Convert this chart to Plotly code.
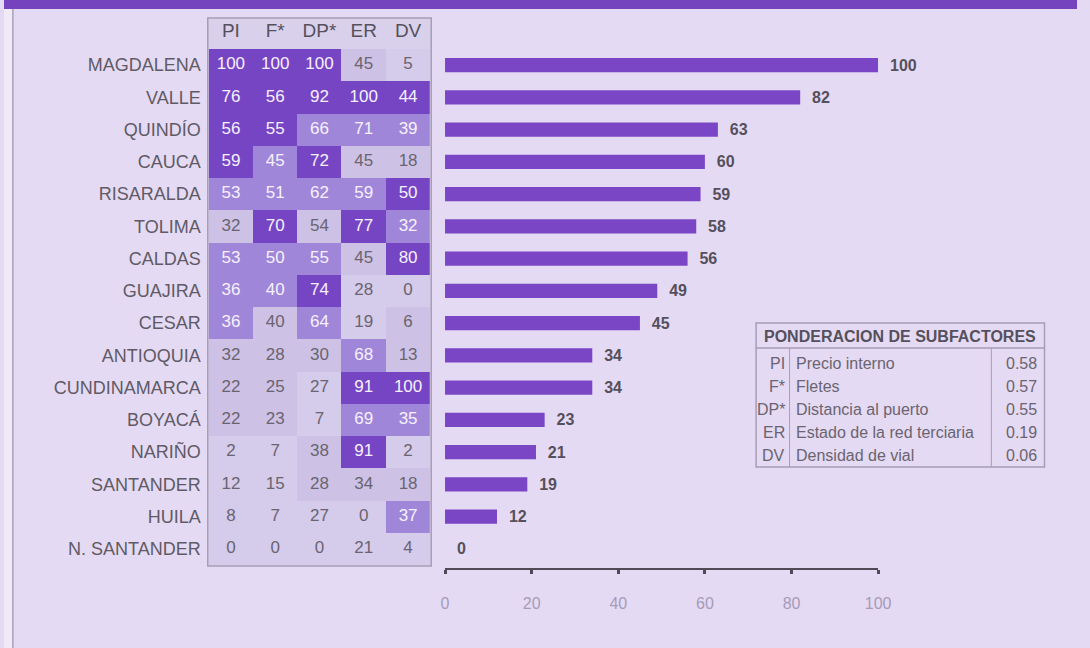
import plotly.graph_objects as go

W, H = 1090, 648

states = ["MAGDALENA", "VALLE", "QUINDÍO", "CAUCA", "RISARALDA", "TOLIMA", "CALDAS",
          "GUAJIRA", "CESAR", "ANTIOQUIA", "CUNDINAMARCA", "BOYACÁ", "NARIÑO",
          "SANTANDER", "HUILA", "N. SANTANDER"]
subfactors = ["PI", "F*", "DP*", "ER", "DV"]

pi = [100, 76, 56, 59, 53, 32, 53, 36, 36, 32, 22, 22, 2, 12, 8, 0]
fl = [100, 56, 55, 45, 51, 70, 50, 40, 40, 28, 25, 23, 7, 15, 7, 0]
dp = [100, 92, 66, 72, 62, 54, 55, 74, 64, 30, 27, 7, 38, 28, 27, 0]
er = [45, 100, 71, 45, 59, 77, 45, 28, 19, 68, 91, 69, 91, 34, 0, 21]
dv = [5, 44, 39, 18, 50, 32, 80, 0, 6, 13, 100, 35, 2, 18, 37, 4]

index_total = [100, 82, 63, 60, 59, 58, 56, 49, 45, 34, 34, 23, 21, 19, 12, 0]

weight_codes = ["PI", "F*", "DP*", "ER", "DV"]
weight_names = ["Precio interno", "Fletes", "Distancia al puerto",
                "Estado de la red terciaria", "Densidad de vial"]
weights = ["0.58", "0.57", "0.55", "0.19", "0.06"]

columns = [pi, fl, dp, er, dv]


def px_x(x):
    return x / W


def px_y(y):
    return 1 - y / H


# shade level per cell = quartile of the rank inside its column (0 = darkest)
levels = [[0] * len(subfactors) for _ in states]
for j, col in enumerate(columns):
    order = sorted(range(len(col)), key=lambda i: -col[i])
    for rank, i in enumerate(order):
        levels[i][j] = rank // 4

shade = ["#7645c4", "#a086d8", "#cdc2e5", "#d5cbea"]
colorscale = [[0, shade[0]], [0.25, shade[0]], [0.25, shade[1]], [0.5, shade[1]],
              [0.5, shade[2]], [0.75, shade[2]], [0.75, shade[3]], [1, shade[3]]]

fig = go.Figure()

fig.add_trace(go.Heatmap(
    z=levels, x=subfactors, y=states, zmin=-0.5, zmax=3.5,
    colorscale=colorscale, showscale=False, hoverinfo="skip",
    xaxis="x", yaxis="y"))

cx, cy, ct, cc = [], [], [], []
for i, s in enumerate(states):
    for j, f in enumerate(subfactors):
        cx.append(f)
        cy.append(s)
        ct.append(str(columns[j][i]))
        cc.append("#f6f1fd" if levels[i][j] < 2 else "#6a6470")
fig.add_trace(go.Scatter(
    x=cx, y=cy, text=ct, mode="text", textposition="middle center",
    textfont=dict(family="Liberation Sans, Arial", size=17, color=cc),
    hoverinfo="skip", showlegend=False, xaxis="x", yaxis="y"))

fig.add_trace(go.Bar(
    x=index_total, y=states, orientation="h", width=0.44,
    marker=dict(color="#7a46c6", line=dict(width=0)),
    texttemplate="\u00a0\u00a0%{x}", textposition="outside", constraintext="none",
    textfont=dict(family="Liberation Sans, Arial", size=16, color="#55505b",
                  weight="bold"),
    cliponaxis=False, xaxis="x2", yaxis="y2", showlegend=False))

n = len(states)
row_top, row_bot = 49, 565
fig.update_layout(
    width=W, height=H, margin=dict(l=0, r=0, t=0, b=0),
    paper_bgcolor="#e5daf3", plot_bgcolor="rgba(0,0,0,0)",
    showlegend=False, bargap=0.5,
    font=dict(family="Liberation Sans, Arial", color="#5a5560"),
    xaxis=dict(domain=[px_x(208), px_x(433)], side="top", showgrid=False,
               range=[-0.5, len(subfactors) - 0.5],
               zeroline=False, showline=False, ticks="", ticklabelstandoff=7,
               tickfont=dict(size=19, color="#55505b"), fixedrange=True),
    yaxis=dict(domain=[px_y(row_bot), px_y(row_top)], categoryorder="array",
               categoryarray=states, range=[n - 0.5, -0.5], showgrid=False,
               zeroline=False, showline=False, ticks="", ticklabelstandoff=7,
               tickfont=dict(size=18, color="#5f5a66"), fixedrange=True),
    xaxis2=dict(domain=[px_x(448), px_x(888)], range=[0, 100], anchor="free",
                position=px_y(569), showgrid=False, zeroline=False,
                showline=True, linecolor="#4f4a55", linewidth=2,
                ticks="outside", ticklen=4, tickwidth=3, tickcolor="#4f4a55",
                tickvals=[0, 20, 40, 60, 80, 100], ticklabelstandoff=16,
                tickfont=dict(size=16, color="#a69bb8"), fixedrange=True),
    yaxis2=dict(domain=[px_y(row_bot), px_y(row_top)], anchor="x2",
                categoryorder="array", categoryarray=states,
                range=[n - 0.5, -0.5], showticklabels=False, showgrid=False,
                zeroline=False, showline=False, ticks="", fixedrange=True),
)

shapes = [
    # top purple band and left frame
    dict(type="rect", xref="paper", yref="paper", x0=0, x1=1, y0=px_y(9), y1=1,
         fillcolor="#7443bd", line=dict(width=0), layer="below"),
    dict(type="rect", xref="paper", yref="paper", x0=0, x1=px_x(9), y0=0, y1=px_y(9),
         fillcolor="#efeaf5", line=dict(width=0), layer="below"),
    dict(type="line", xref="paper", yref="paper", x0=px_x(9), x1=px_x(9), y0=0, y1=px_y(9),
         line=dict(color="#aaa2b6", width=1.5)),
    # table frame
    dict(type="rect", xref="paper", yref="paper", x0=px_x(207), x1=px_x(434),
         y0=px_y(566), y1=px_y(18), fillcolor="#d9d0eb",
         line=dict(color="#a79db6", width=1.5), layer="below"),
]

ann = []
# weighting box
bx0, bx1, by0 = 764, 1057, 323
hh, rh = 25, 23
c1, c2 = 798, 1003
by1 = by0 + hh + rh * len(weight_codes) + 4
shapes += [
    dict(type="rect", xref="paper", yref="paper", x0=px_x(bx0), x1=px_x(bx1),
         y0=px_y(by1), y1=px_y(by0), fillcolor="rgba(0,0,0,0)",
         line=dict(color="#a79db6", width=1.5)),
    dict(type="line", xref="paper", yref="paper", x0=px_x(bx0), x1=px_x(bx1),
         y0=px_y(by0 + hh), y1=px_y(by0 + hh), line=dict(color="#a79db6", width=1.5)),
    dict(type="line", xref="paper", yref="paper", x0=px_x(c1), x1=px_x(c1),
         y0=px_y(by1), y1=px_y(by0 + hh), line=dict(color="#a79db6", width=1)),
    dict(type="line", xref="paper", yref="paper", x0=px_x(c2), x1=px_x(c2),
         y0=px_y(by1), y1=px_y(by0 + hh), line=dict(color="#a79db6", width=1)),
]
box_font = "Liberation Sans Narrow, Liberation Sans, Arial"
ann.append(dict(x=px_x((bx0 + bx1) / 2), y=px_y(by0 + hh / 2 + 1), xref="paper", yref="paper",
                xanchor="center", yanchor="middle",
                text="PONDERACION DE SUBFACTORES", showarrow=False,
                font=dict(family=box_font, size=16, color="#55505b", weight="bold")))
for k in range(len(weight_codes)):
    yc = px_y(by0 + hh + 4 + rh * k + rh / 2)
    ann.append(dict(x=px_x(c1 - 3), y=yc, xref="paper", yref="paper",
                    xanchor="right", yanchor="middle",
                    text=weight_codes[k], showarrow=False,
                    font=dict(family=box_font, size=16, color="#6a6470")))
    ann.append(dict(x=px_x(c1 + 5), y=yc, xref="paper", yref="paper",
                    xanchor="left", yanchor="middle",
                    text=weight_names[k], showarrow=False,
                    font=dict(family=box_font, size=16, color="#6a6470")))
    ann.append(dict(x=px_x(bx1 - 6), y=yc, xref="paper", yref="paper",
                    xanchor="right", yanchor="middle",
                    text=weights[k], showarrow=False,
                    font=dict(family=box_font, size=16, color="#6a6470")))

fig.update_layout(shapes=shapes, annotations=ann)

fig.write_html("out.html", config={"displayModeBar": False, "responsive": False},
               post_script="document.body.style.margin='0px';"
                           "document.body.style.overflow='hidden';"
                           "document.documentElement.style.overflow='hidden';")
